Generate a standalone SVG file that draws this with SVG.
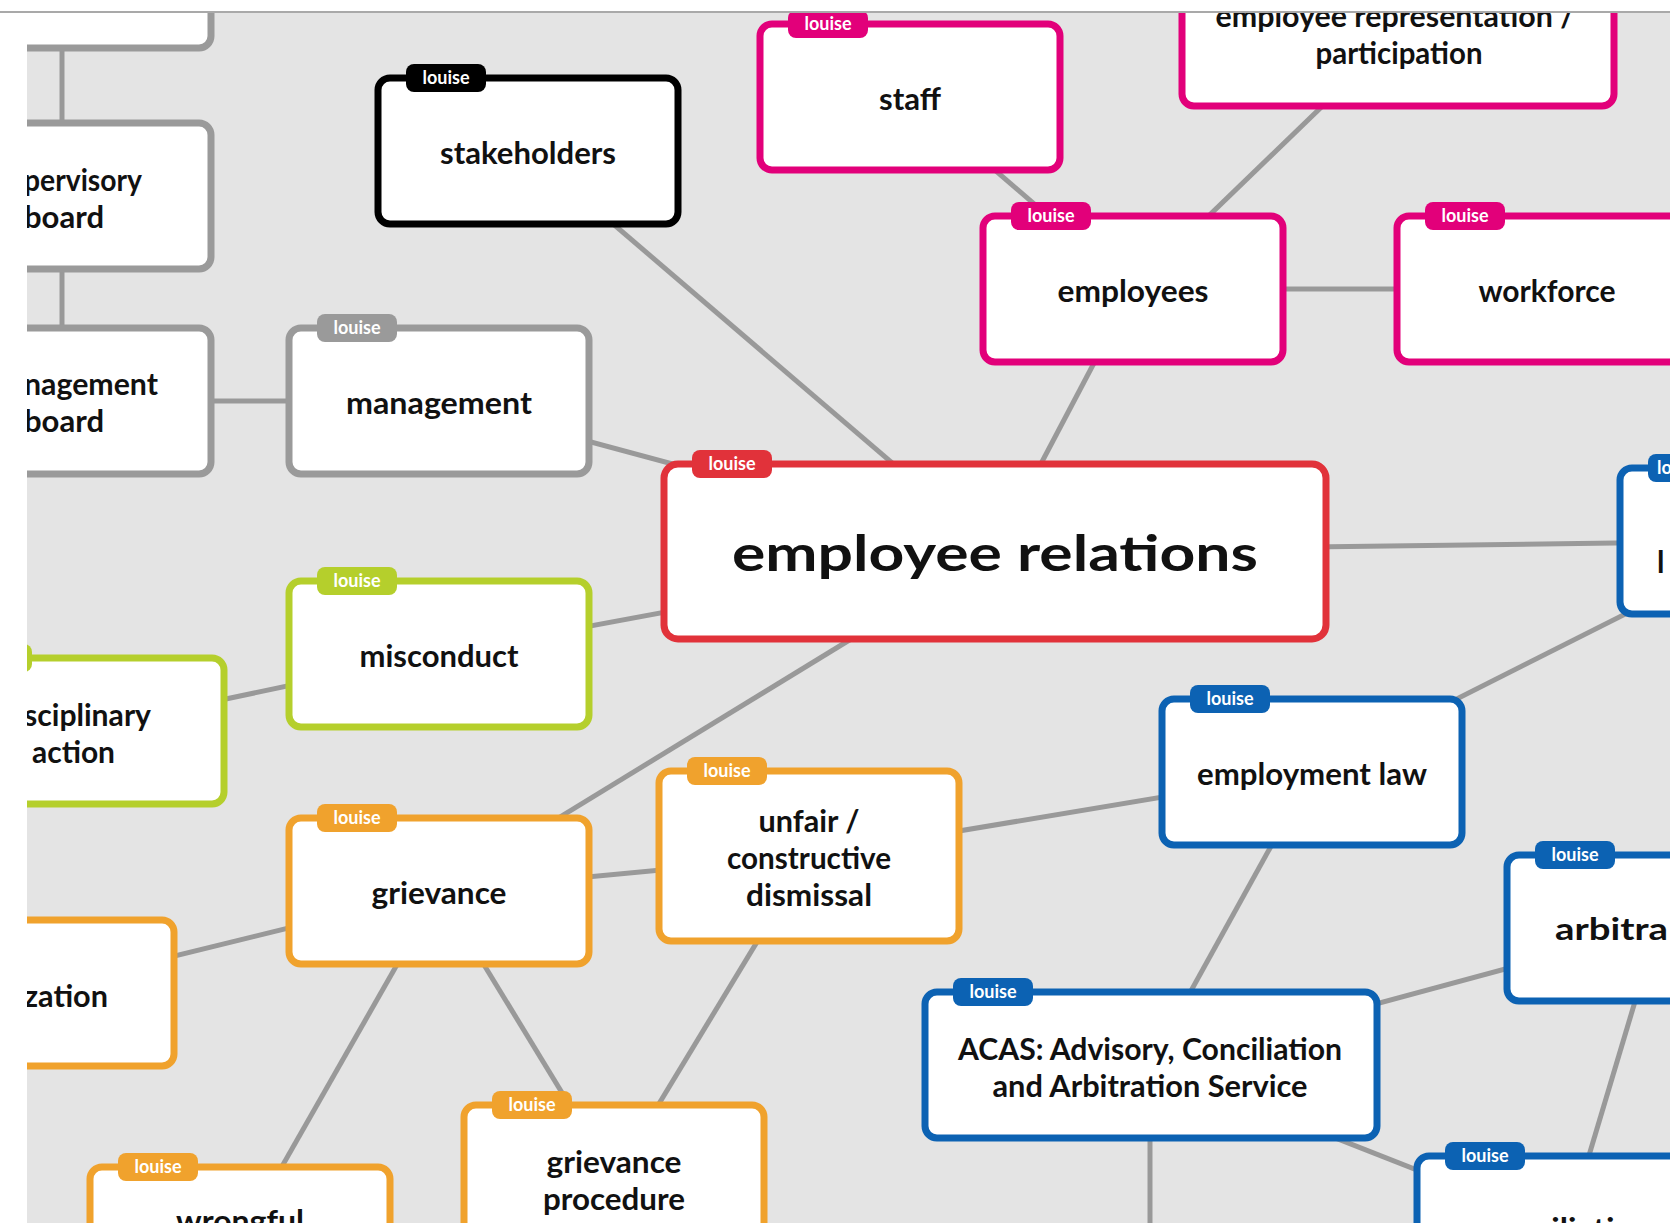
<svg xmlns="http://www.w3.org/2000/svg" width="1670" height="1223" viewBox="0 0 1670 1223">
<style>
.bg{fill:#e4e4e4}
.box{fill:#fff;stroke-width:7}
.grey{stroke:#9a9a9a}.black{stroke:#000}.pink{stroke:#e2007a}.red{stroke:#e1323a}.lime{stroke:#b5cf2c}.orange{stroke:#f0a22d}.blue{stroke:#0c62b3}
.tgrey{fill:#9a9a9a}.tblack{fill:#000}.tpink{fill:#e2007a}.tred{fill:#e1323a}.tlime{fill:#b5cf2c}.torange{fill:#f0a22d}.tblue{fill:#0c62b3}
.lbl{font-family:Lato,"Liberation Sans",sans-serif;font-weight:700;font-size:30px;fill:#111;text-anchor:middle}
.lend{text-anchor:end}
.lstart{text-anchor:start}
.big{font-size:50px}
.tagt{font-family:Lato,"Liberation Sans",sans-serif;font-weight:700;font-size:18px;fill:#fff;text-anchor:middle}
.edge{stroke:#999;stroke-width:5;fill:none}
</style>
<rect class="bg" x="0" y="0" width="1670" height="1223"/>
<g id="connectors">
<line class="edge" x1="62" y1="-25" x2="62" y2="196"/>
<line class="edge" x1="62" y1="196" x2="62" y2="401"/>
<line class="edge" x1="60" y1="401" x2="439" y2="401"/>
<line class="edge" x1="528" y1="151" x2="995" y2="551"/>
<line class="edge" x1="439" y1="401" x2="995" y2="551"/>
<line class="edge" x1="910" y1="97" x2="1133" y2="289"/>
<line class="edge" x1="1398" y1="33" x2="1133" y2="289"/>
<line class="edge" x1="1133" y1="289" x2="1547" y2="289"/>
<line class="edge" x1="1133" y1="289" x2="995" y2="551"/>
<line class="edge" x1="995" y1="551" x2="1770" y2="541"/>
<line class="edge" x1="1770" y1="541" x2="1312" y2="772"/>
<line class="edge" x1="439" y1="654" x2="995" y2="551"/>
<line class="edge" x1="74" y1="731" x2="439" y2="654"/>
<line class="edge" x1="439" y1="891" x2="995" y2="551"/>
<line class="edge" x1="439" y1="891" x2="809" y2="856"/>
<line class="edge" x1="809" y1="856" x2="1312" y2="772"/>
<line class="edge" x1="24" y1="993" x2="439" y2="891"/>
<line class="edge" x1="439" y1="891" x2="240" y2="1240"/>
<line class="edge" x1="439" y1="891" x2="614" y2="1178"/>
<line class="edge" x1="809" y1="856" x2="614" y2="1178"/>
<line class="edge" x1="1312" y1="772" x2="1150" y2="1065"/>
<line class="edge" x1="1150" y1="1065" x2="1657" y2="928"/>
<line class="edge" x1="1150" y1="1065" x2="1567" y2="1229"/>
<line class="edge" x1="1657" y1="928" x2="1567" y2="1229"/>
<line class="edge" x1="1150" y1="1065" x2="1150" y2="1300"/>
</g>
<g id="n-top-left"><rect class="box grey" x="-89" y="-98" width="300" height="146" rx="12"/></g>
<g id="n-supervisory-board"><rect class="box grey" x="-89" y="123" width="300" height="146" rx="12"/>
<text class="lbl lend" x="142" y="191" textLength="118" lengthAdjust="spacingAndGlyphs">pervisory</text>
<text class="lbl lend" x="104" y="228" textLength="80" lengthAdjust="spacingAndGlyphs">board</text></g>
<g id="n-management-board"><rect class="box grey" x="-89" y="328" width="300" height="146" rx="12"/>
<text class="lbl lend" x="158" y="395" textLength="134" lengthAdjust="spacingAndGlyphs">nagement</text>
<text class="lbl lend" x="104" y="432" textLength="80" lengthAdjust="spacingAndGlyphs">board</text></g>
<g id="n-stakeholders"><rect class="box black" x="378" y="78" width="300" height="146" rx="12"/>
<rect class="tblack" x="406" y="64" width="80" height="28" rx="8"/><text class="tagt" x="446" y="84">louise</text>
<text class="lbl" x="528" y="164" textLength="176" lengthAdjust="spacingAndGlyphs">stakeholders</text></g>
<g id="n-management"><rect class="box grey" x="289" y="328" width="300" height="146" rx="12"/>
<rect class="tgrey" x="317" y="314" width="80" height="28" rx="8"/><text class="tagt" x="357" y="334">louise</text>
<text class="lbl" x="439" y="414" textLength="186" lengthAdjust="spacingAndGlyphs">management</text></g>
<g id="n-staff"><rect class="box pink" x="760" y="24" width="300" height="146" rx="12"/>
<rect class="tpink" x="788" y="10" width="80" height="28" rx="8"/><text class="tagt" x="828" y="30">louise</text>
<text class="lbl" x="910" y="110" textLength="62" lengthAdjust="spacingAndGlyphs">staff</text></g>
<g id="n-employee-representation"><rect class="box pink" x="1182" y="-40" width="432" height="146" rx="12"/>
<text class="lbl" x="1395" y="27" textLength="359" lengthAdjust="spacingAndGlyphs">employee representation /</text>
<text class="lbl" x="1399" y="64" textLength="167" lengthAdjust="spacingAndGlyphs">participation</text></g>
<g id="n-employees"><rect class="box pink" x="983" y="216" width="300" height="146" rx="12"/>
<rect class="tpink" x="1011" y="202" width="80" height="28" rx="8"/><text class="tagt" x="1051" y="222">louise</text>
<text class="lbl" x="1133" y="302" textLength="151" lengthAdjust="spacingAndGlyphs">employees</text></g>
<g id="n-workforce"><rect class="box pink" x="1397" y="216" width="300" height="146" rx="12"/>
<rect class="tpink" x="1425" y="202" width="80" height="28" rx="8"/><text class="tagt" x="1465" y="222">louise</text>
<text class="lbl" x="1547" y="302" textLength="137" lengthAdjust="spacingAndGlyphs">workforce</text></g>
<g id="n-employee-relations"><rect class="box red" x="664" y="464" width="662" height="175" rx="14"/>
<rect class="tred" x="692" y="450" width="80" height="28" rx="8"/><text class="tagt" x="732" y="470">louise</text>
<text class="lbl big" x="995" y="571" textLength="526" lengthAdjust="spacingAndGlyphs">employee relations</text></g>
<g id="n-right-law"><rect class="box blue" x="1620" y="468" width="300" height="146" rx="12"/>
<rect class="tblue" x="1648" y="454" width="80" height="28" rx="8"/><text class="tagt lstart" x="1657" y="474" style="text-anchor:start">lo</text>
<text class="lbl lstart" x="1657" y="573">l</text></g>
<g id="n-misconduct"><rect class="box lime" x="289" y="581" width="300" height="146" rx="12"/>
<rect class="tlime" x="317" y="567" width="80" height="28" rx="8"/><text class="tagt" x="357" y="587">louise</text>
<text class="lbl" x="439" y="667" textLength="159" lengthAdjust="spacingAndGlyphs">misconduct</text></g>
<g id="n-disciplinary-action"><rect class="box lime" x="-76" y="658" width="300" height="146" rx="12"/>
<rect class="tlime" x="-48" y="644" width="80" height="28" rx="8"/>
<text class="lbl lend" x="151" y="726" textLength="127" lengthAdjust="spacingAndGlyphs">sciplinary</text>
<text class="lbl lend" x="115" y="763" textLength="83" lengthAdjust="spacingAndGlyphs">action</text></g>
<g id="n-grievance"><rect class="box orange" x="289" y="818" width="300" height="146" rx="12"/>
<rect class="torange" x="317" y="804" width="80" height="28" rx="8"/><text class="tagt" x="357" y="824">louise</text>
<text class="lbl" x="439" y="904" textLength="135" lengthAdjust="spacingAndGlyphs">grievance</text></g>
<g id="n-unfair-dismissal"><rect class="box orange" x="659" y="771" width="300" height="170" rx="12"/>
<rect class="torange" x="687" y="757" width="80" height="28" rx="8"/><text class="tagt" x="727" y="777">louise</text>
<text class="lbl" x="809" y="832" textLength="101" lengthAdjust="spacingAndGlyphs">unfair /</text>
<text class="lbl" x="809" y="869" textLength="164" lengthAdjust="spacingAndGlyphs">constructive</text>
<text class="lbl" x="809" y="906" textLength="126" lengthAdjust="spacingAndGlyphs">dismissal</text></g>
<g id="n-zation"><rect class="box orange" x="-126" y="920" width="300" height="146" rx="12"/>
<text class="lbl lend" x="108" y="1007" textLength="84" lengthAdjust="spacingAndGlyphs">zation</text></g>
<g id="n-wrongful"><rect class="box orange" x="90" y="1167" width="300" height="146" rx="12"/>
<rect class="torange" x="118" y="1153" width="80" height="28" rx="8"/><text class="tagt" x="158" y="1173">louise</text>
<text class="lbl" x="240" y="1232" textLength="128" lengthAdjust="spacingAndGlyphs">wrongful</text></g>
<g id="n-grievance-procedure"><rect class="box orange" x="464" y="1105" width="300" height="146" rx="12"/>
<rect class="torange" x="492" y="1091" width="80" height="28" rx="8"/><text class="tagt" x="532" y="1111">louise</text>
<text class="lbl" x="614" y="1173" textLength="135" lengthAdjust="spacingAndGlyphs">grievance</text>
<text class="lbl" x="614" y="1210" textLength="142" lengthAdjust="spacingAndGlyphs">procedure</text></g>
<g id="n-employment-law"><rect class="box blue" x="1162" y="699" width="300" height="146" rx="12"/>
<rect class="tblue" x="1190" y="685" width="80" height="28" rx="8"/><text class="tagt" x="1230" y="705">louise</text>
<text class="lbl" x="1312" y="785" textLength="230" lengthAdjust="spacingAndGlyphs">employment law</text></g>
<g id="n-arbitration"><rect class="box blue" x="1507" y="855" width="300" height="146" rx="12"/>
<rect class="tblue" x="1535" y="841" width="80" height="28" rx="8"/><text class="tagt" x="1575" y="861">louise</text>
<text class="lbl lstart" x="1555" y="940" textLength="113" lengthAdjust="spacingAndGlyphs">arbitra</text></g>
<g id="n-acas"><rect class="box blue" x="925" y="992" width="452" height="146" rx="12"/>
<rect class="tblue" x="953" y="978" width="80" height="28" rx="8"/><text class="tagt" x="993" y="998">louise</text>
<text class="lbl" x="1150" y="1060" textLength="384" lengthAdjust="spacingAndGlyphs">ACAS: Advisory, Conciliation</text>
<text class="lbl" x="1150" y="1097" textLength="315" lengthAdjust="spacingAndGlyphs">and Arbitration Service</text></g>
<g id="n-conciliation"><rect class="box blue" x="1417" y="1156" width="300" height="146" rx="12"/>
<rect class="tblue" x="1445" y="1142" width="80" height="28" rx="8"/><text class="tagt" x="1485" y="1162">louise</text>
<text class="lbl" x="1567" y="1240" textLength="170" lengthAdjust="spacingAndGlyphs">conciliation</text></g>
<rect x="0" y="0" width="27" height="1223" fill="#fff"/>
<rect x="0" y="0" width="1670" height="11" fill="#fff"/>
<rect x="0" y="11" width="1670" height="2" fill="#a9a9a9"/>
</svg>
